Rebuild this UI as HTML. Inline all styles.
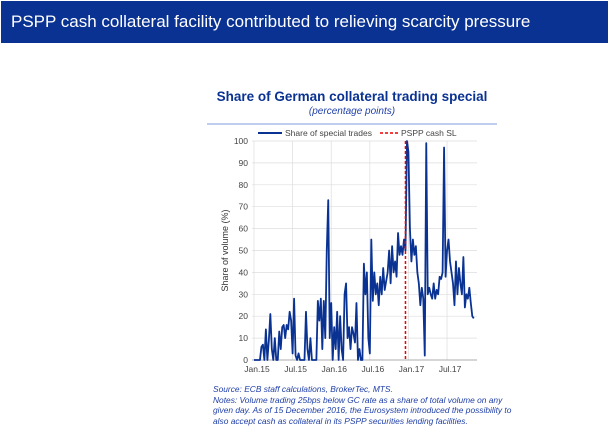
<!DOCTYPE html>
<html><head><meta charset="utf-8"><style>
body{margin:0;width:609px;height:442px;background:#fff;font-family:"Liberation Sans",sans-serif;position:relative;overflow:hidden}
.hdr{position:absolute;left:1px;top:1px;width:607px;height:42px;background:#0a3292;color:#fff;font-size:17px;line-height:42px;padding-left:10px;box-sizing:border-box}
.note{position:absolute;left:213px;top:384px;font-size:8.4px;font-style:italic;color:#1f3fa8;line-height:10.5px;width:300px}
</style></head><body>
<div class="hdr">PSPP cash collateral facility contributed to relieving scarcity pressure</div>
<svg width="609" height="442" style="position:absolute;left:0;top:0" id="chart">
<text x="352" y="101" text-anchor="middle" font-size="13.5" font-weight="bold" fill="#0a3292">Share of German collateral trading special</text>
<text x="352" y="114" text-anchor="middle" font-size="10" font-style="italic" fill="#1f3fa8">(percentage points)</text>
<line x1="207" y1="124" x2="497" y2="124" stroke="#7f9be0" stroke-width="1"/>
<g>
<line x1="258" y1="133" x2="282" y2="133" stroke="#0a3292" stroke-width="2"/>
<text x="285" y="136" font-size="8.5" fill="#444">Share of special trades</text>
<line x1="380" y1="133" x2="398" y2="133" stroke="#e00" stroke-width="1.5" stroke-dasharray="3,2"/>
<text x="401" y="136" font-size="8.5" fill="#444">PSPP cash SL</text>
</g>
<g id="grid"></g><g id="axes"></g><g id="series"></g>
</svg>
<div class="note">Source: ECB staff calculations, BrokerTec, MTS.<br>Notes: Volume trading 25bps below GC rate as a share of total volume on any given day. As of 15 December 2016, the Eurosystem introduced the possibility to also accept cash as collateral in its PSPP securities lending facilities.</div>
<script>
const weeklyShare=[0,0,0,0,0,6,7,0,14,0,9,21,5,0,10,0,0,13,5,15,16,10,16,14,22,18,3,28,2,0,3,0,0,0,0,22,5,0,10,0,0,0,0,27,18,28,5,27,10,50,73,10,26,0,15,5,22,0,20,5,0,30,35,10,15,5,15,12,8,26,0,5,0,0,44,30,40,10,3,55,27,40,30,35,25,38,30,42,32,36,40,50,35,52,40,45,38,58,48,52,48,55,50,100,95,60,45,55,48,52,40,35,25,33,28,2,99,30,33,30,28,35,28,32,30,38,37,40,97,38,50,55,45,40,35,25,45,30,42,35,30,47,24,30,28,33,26,20,19];
const yTicks=[0,10,20,30,40,50,60,70,80,90,100];
const xTickLabels=["Jan.15","Jul.15","Jan.16","Jul.16","Jan.17","Jul.17"];
const xTickWeeks=[0,26,52,78,104,130];
const policyWeek=102;
const L=252,R=477,T=141,B=360,x0=254,pw=1.485;
const X=w=>x0+w*pw, Y=v=>B-(v/100)*(B-T);
const ns="http://www.w3.org/2000/svg";
const mk=(t,a,p)=>{const e=document.createElementNS(ns,t);for(const k in a)e.setAttribute(k,a[k]);p.appendChild(e);return e;};
const g=document.getElementById('grid'),ax=document.getElementById('axes'),s=document.getElementById('series');
yTicks.forEach(v=>{
 const l=mk('line',{x1:L,x2:R,y1:Y(v),y2:Y(v),stroke:'#ddd','stroke-width':0.7},g);
 
 
 const t=mk('text',{x:L-4,y:Y(v)+3,'text-anchor':'end','font-size':8.5,fill:'#444'},ax);
 t.textContent=v;
 
 
});
xTickWeeks.forEach((w,i)=>{
 const l=mk('line',{x1:X(w),x2:X(w),y1:T,y2:B,stroke:'#ddd','stroke-width':0.7},g);
 
 
 const t=mk('text',{x:X(w)+3,y:B+12,'text-anchor':'middle','font-size':8.5,fill:'#444'},ax);
 t.textContent=xTickLabels[i];
 
 
});
const al=mk('line',{x1:L,x2:R,y1:B,y2:B,stroke:'#999','stroke-width':0.8},ax);


const yt=mk('text',{x:0,y:0,transform:`translate(228,${(T+B)/2}) rotate(-90)`,'text-anchor':'middle','font-size':9,fill:'#333'},ax);
yt.textContent='Share of volume (%)';


const p=mk('polyline',{points:weeklyShare.map((v,i)=>X(i)+','+Y(v)).join(' '),fill:'none',stroke:'#0a3292','stroke-width':1.8,'stroke-linejoin':'round'},s);


const r=mk('line',{x1:X(policyWeek),x2:X(policyWeek),y1:T,y2:B,stroke:'#e00','stroke-width':1.5,'stroke-dasharray':'3,2'},s);


</script>
</body></html>
